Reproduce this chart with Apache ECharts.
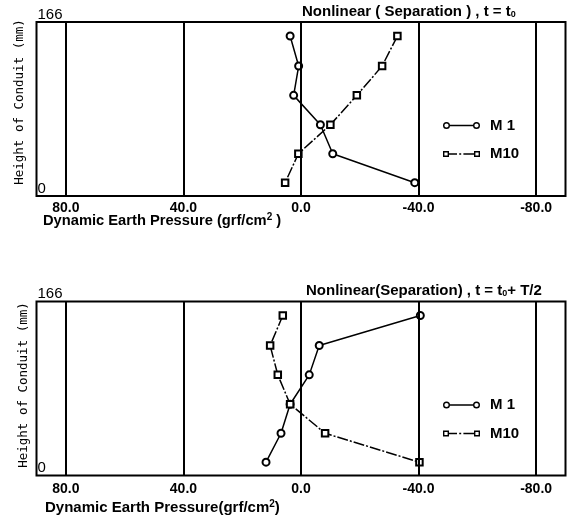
<!DOCTYPE html>
<html>
<head>
<meta charset="utf-8">
<script src="https://cdn.jsdelivr.net/npm/echarts@6/dist/echarts.min.js"></script>
<style>html,body{margin:0;padding:0;background:#fff;}#c{width:572px;height:521px;}</style>
</head>
<body>
<div id="c"></div>
<script>
// ---- data ----
const heights = [152.6, 124.0, 96.0, 68.0, 40.3, 12.7];           // mm
const topM1  = [3.7, 0.8, 2.5, -6.6, -10.8, -38.7];                // t = t0
const topM10 = [-32.8, -27.6, -19.0, -10.0, 0.9, 5.4];
const botM1  = [-40.6, -6.2, -2.8, 3.7, 6.8, 11.9];                // t = t0 + T/2
const botM10 = [6.2, 10.5, 7.9, 3.7, -8.2, -40.3];
const xTicks = [80, 40, 0, -40, -80];
const yTicks = [0, 166];
const seriesNames = ['M 1', 'M10'];
const titles = ['Nonlinear ( Separation ) , t = t{sub|0}', 'Nonlinear(Separation) , t = t{sub|0}+ T/2'];
const xName = 'Dynamic Earth Pressure (grf/cm{sup|2} )';
const xName2 = 'Dynamic Earth Pressure(grf/cm{sup|2})';
const yName = 'Height of Conduit (mm)';

const FONT = 'Liberation Sans';
const chart = echarts.init(document.getElementById('c'), null, {renderer: 'canvas'});

const circIcon = 'path://M0 35 A35 35 0 1 1 70 35 A35 35 0 1 1 0 35 Z M14 35 A21 21 0 1 0 56 35 A21 21 0 1 0 14 35 Z M68 27 L302 27 L302 43 L68 43 Z M300 35 A35 35 0 1 1 370 35 A35 35 0 1 1 300 35 Z M314 35 A21 21 0 1 0 356 35 A21 21 0 1 0 314 35 Z';
const sqIcon = 'path://M0 5 L60 5 L60 65 L0 65 Z M14 19 L14 51 L46 51 L46 19 Z M60 28 L140 28 L140 42 L60 42 Z M162 28 L182 28 L182 42 L162 42 Z M204 28 L310 28 L310 42 L204 42 Z M310 5 L370 5 L370 65 L310 65 Z M324 19 L324 51 L356 51 L356 19 Z M0 0 L0 0 L0 70 Z M370 0 L370 70 L370 0 Z';

const grids = [
  {left: 36.5, top: 22, width: 529, height: 174},
  {left: 36.5, top: 301.5, width: 529, height: 174}
];

function xAxisFor(i) {
  return {
    gridIndex: i, type: 'value', min: -90, max: 90, interval: 10, inverse: true,
    axisLine: {show: false}, axisTick: {show: false}, splitLine: {show: false},
    axisLabel: {
      margin: i ? 7 : 5, fontFamily: FONT, fontSize: 14, fontWeight: 'bold', color: '#000',
      formatter: v => (xTicks.indexOf(v) >= 0 ? v.toFixed(1) : '')
    }
  };
}
function yAxisFor(i) {
  return {
    gridIndex: i, type: 'value', min: yTicks[0], max: yTicks[1], interval: yTicks[1] - yTicks[0],
    axisLine: {show: false}, axisTick: {show: false}, splitLine: {show: false},
    axisLabel: {inside: true, margin: 1, verticalAlign: 'bottom', fontFamily: FONT, fontSize: 15, lineHeight: 15, color: '#000'},
    name: yName, nameLocation: 'middle', nameRotate: 90, nameGap: i ? 6.5 : 10.5, nameMoveOverlap: false,
    nameTextStyle: {fontFamily: 'DejaVu Sans Mono', fontSize: 12.5, color: '#000', padding: i ? [0, 0, 0, 7] : [0, 0, 0, 14]}
  };
}
function makeSeries(i, m1, m10) {
  return [
    {
      name: seriesNames[0], type: 'line', xAxisIndex: i, yAxisIndex: i,
      data: heights.map((h, k) => [m1[k], h]),
      symbol: 'emptyCircle', symbolSize: 7,
      lineStyle: {color: '#000', width: 1.5},
      itemStyle: {color: '#000', borderWidth: 1.5},
      markLine: {
        silent: true, symbol: ['none', 'none'], label: {show: false},
        lineStyle: {color: '#000', width: 2, type: 'solid'},
        data: xTicks.map(v => ({xAxis: v}))
      },
      z: 3
    },
    {
      name: seriesNames[1], type: 'line', xAxisIndex: i, yAxisIndex: i,
      data: heights.map((h, k) => [m10[k], h]),
      symbol: 'emptyRect', symbolSize: 6.5,
      lineStyle: {color: '#000', width: 1.5, type: [11, 2, 2, 2]},
      itemStyle: {color: '#000', borderWidth: 1.5},
      z: 3
    }
  ];
}
function legendFor(top) {
  return {
    left: 443, top: top, padding: 0, orient: 'vertical', itemWidth: 37, itemHeight: 7, itemGap: 12.5,
    selectedMode: false,
    textStyle: {fontFamily: FONT, fontSize: 15, fontWeight: 'bold', color: '#000', lineHeight: 16, padding: [0, 0, 0, 5]},
    itemStyle: {color: '#000', borderWidth: 0},
    data: [{name: seriesNames[0], icon: circIcon}, {name: seriesNames[1], icon: sqIcon}]
  };
}
const richText = {
  sub: {fontFamily: FONT, fontSize: 9, fontWeight: 'bold', fill: '#000', padding: [6, 0, 0, 0]},
  sup: {fontFamily: FONT, fontSize: 10, fontWeight: 'bold', fill: '#000', padding: [0, 0, 7, 0]}
};
function txt(left, top, text, size) {
  return {
    type: 'text', left: left, top: top,
    style: {text: text, fontFamily: FONT, fontSize: size, fontWeight: 'bold', fill: '#000', rich: richText}
  };
}

chart.setOption({
  animation: false,
  grid: grids.map(g => Object.assign({show: true, borderColor: '#000', borderWidth: 2, backgroundColor: 'transparent'}, g)),
  xAxis: [xAxisFor(0), xAxisFor(1)],
  yAxis: [yAxisFor(0), yAxisFor(1)],
  legend: [legendFor(117.5), legendFor(397)],
  series: makeSeries(0, topM1, topM10).concat(makeSeries(1, botM1, botM10)),
  graphic: [
    txt(302, 4, titles[0], 15),
    txt(306, 283, titles[1], 15),
    txt(43, 212, xName, 14.7),
    txt(45, 499, xName2, 15)
  ]
});
</script>
</body>
</html>
